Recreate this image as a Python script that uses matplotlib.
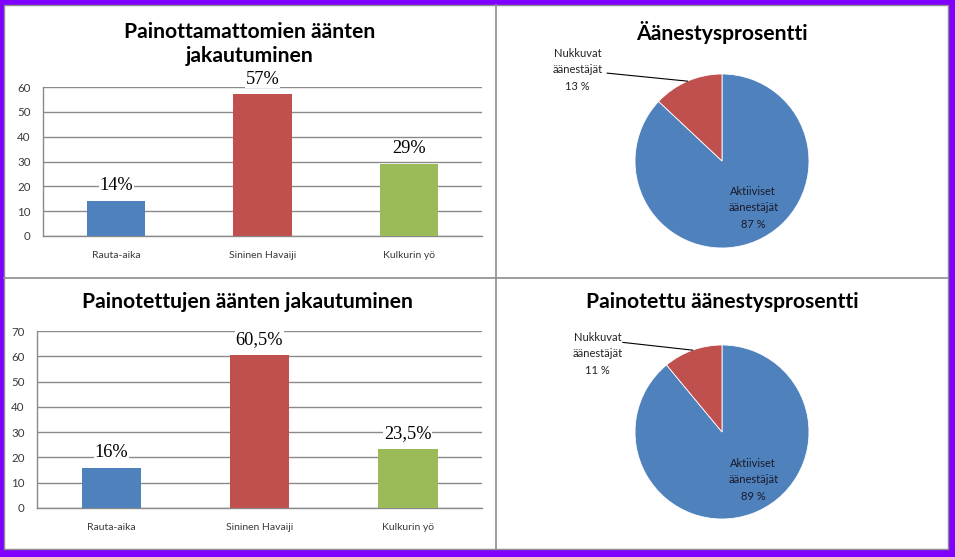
import matplotlib
matplotlib.use("Agg")
import matplotlib.pyplot as plt
from matplotlib.patches import Rectangle
import numpy as np

# ---- data ----
categories = ["Rauta-aika", "Sininen Havaiji", "Kulkurin yö"]
unweighted = [14, 57, 29]
unweighted_labels = ["14%", "57%", "29%"]
weighted = [16, 60.5, 23.5]
weighted_labels = ["16%", "60,5%", "23,5%"]

pie_names = ["Aktiiviset\näänestäjät", "Nukkuvat\näänestäjät"]
turnout = [87, 13]
weighted_turnout = [89, 11]

titles = ["Painottamattomien äänten\njakautuminen", "Äänestysprosentti",
          "Painotettujen äänten jakautuminen", "Painotettu äänestysprosentti"]

bar_colors = ["#4F81BD", "#C0504D", "#9BBB59"]
pie_colors = ["#4F81BD", "#C0504D"]

W, H = 955, 557
fig = plt.figure(figsize=(W / 100, H / 100), dpi=100)
fig.patch.set_facecolor("#8000FF")

SANS = ["Lato", "DejaVu Sans"]
SERIF = ["Liberation Serif", "DejaVu Serif"]
TITLE_SIZE = 15.2


def rect(x0, y0, x1, y1):
    return [x0 / W, 1 - y1 / H, (x1 - x0) / W, (y1 - y0) / H]


# background white panel area with grey separators
bg = fig.add_axes([0, 0, 1, 1])
bg.set_xlim(0, W)
bg.set_ylim(H, 0)
bg.axis("off")
bg.add_patch(Rectangle((4, 5), 944, 544, facecolor="white", edgecolor="#8c8c8c", lw=1.0))
bg.plot([496, 496], [5, 549], color="#8c8c8c", lw=1.2)
bg.plot([4, 948], [277.5, 277.5], color="#8c8c8c", lw=1.2)


def bar_chart(box, values, labels, ymax, title, title_y, title_x):
    ax = fig.add_axes(rect(*box))
    x = np.arange(len(categories))
    ax.bar(x, values, width=0.4, color=bar_colors, zorder=3)
    ax.set_xlim(-0.5, len(categories) - 0.5)
    ax.set_ylim(0, ymax)
    ax.set_yticks(np.arange(0, ymax + 1, 10))
    ax.set_xticks(x)
    ax.set_xticklabels(categories, fontsize=7.5, family=SANS, color="#3a3a3a")
    for t in ax.get_yticklabels():
        t.set_fontsize(8.3)
        t.set_family(SANS)
        t.set_color("#3a3a3a")
    ax.tick_params(axis="y", length=0, pad=9)
    ax.tick_params(axis="x", length=0, pad=11)
    ax.grid(axis="y", color="#8a8a8a", lw=1.0, zorder=0)
    for s in ["top", "right"]:
        ax.spines[s].set_visible(False)
    for s in ["left", "bottom"]:
        ax.spines[s].set_color("#8a8a8a")
        ax.spines[s].set_linewidth(1.0)
    for xi, v, lab in zip(x, values, labels):
        ax.annotate(lab, (xi, v), xytext=(0, 11), textcoords="offset points",
                    ha="center", va="center", fontsize=13.2, family=SERIF,
                    color="black", zorder=5,
                    bbox=dict(facecolor="white", edgecolor="none", pad=0.5))
    fig.text(title_x / W, 1 - title_y / H, title, ha="center", va="center",
             fontsize=TITLE_SIZE, fontweight="bold", family=SANS, linespacing=1.2)
    return ax


bar_chart((43, 87, 482, 236), unweighted, unweighted_labels, 60, titles[0], 44, 250)
bar_chart((37, 331, 482, 508), weighted, weighted_labels, 70, titles[2], 302, 247)

R = 87.0


def pie_chart(cx, cy, values, title, title_y, in_pos, out_pos, line_start):
    half_w, half_h = 200, 130
    ax = fig.add_axes(rect(cx - half_w, cy - half_h, cx + half_w, cy + half_h))
    wedges, _ = ax.pie(values, colors=pie_colors, startangle=90, counterclock=False,
                       radius=1.0, wedgeprops=dict(linewidth=0.6, edgecolor="white"))
    ax.set_xlim(-half_w / R, half_w / R)
    ax.set_ylim(-half_h / R, half_h / R)
    ax.set_aspect("equal")
    ax.axis("off")
    # inside label
    ax.text(in_pos[0], in_pos[1], f"{pie_names[0]}\n{values[0]} %", ha="center", va="center",
            fontsize=8, family=SANS, color="#1a1a2a", linespacing=1.6)
    # outside label with leader line
    ax.text(out_pos[0], out_pos[1], f"{pie_names[1]}\n{values[1]} %", ha="center", va="center",
            fontsize=8, family=SANS, color="#222222", linespacing=1.6)
    w = wedges[1]
    mid = np.deg2rad((w.theta1 + w.theta2) / 2)
    ax.plot([line_start[0], np.cos(mid)], [line_start[1], np.sin(mid)],
            color="black", lw=0.8)
    fig.text(cx / W, 1 - title_y / H, title, ha="center", va="center",
             fontsize=TITLE_SIZE, fontweight="bold", family=SANS)


pie_chart(722, 161, turnout, titles[1], 32, (0.36, -0.54), (-1.66, 1.05), (-1.32, 1.01))
pie_chart(722, 432, weighted_turnout, titles[3], 302, (0.36, -0.55), (-1.43, 0.90), (-1.14, 1.03))

fig.savefig("out.png", dpi=100, facecolor=fig.get_facecolor())
